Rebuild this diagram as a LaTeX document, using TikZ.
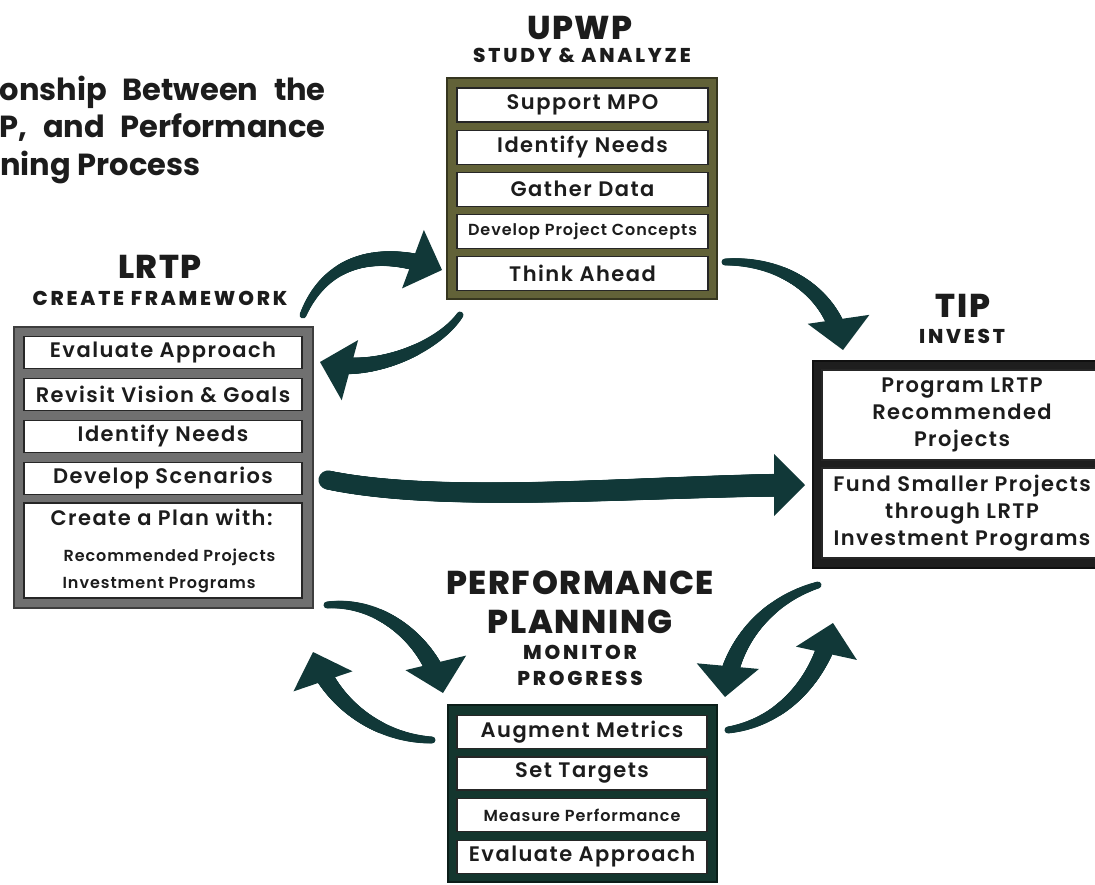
\documentclass[tikz,border=0pt]{standalone}
\usepackage{fontspec}
\setmainfont{Poppins}[UprightFont=* SemiBold, BoldFont=* Bold]
\newfontfamily\blackfont{Poppins}[UprightFont=* ExtraBold]
\usepackage{tikz}
\usetikzlibrary{arrows.meta,decorations.markings}

\definecolor{arrowteal}{RGB}{17,56,56}
\definecolor{olivebox}{RGB}{98,98,56}
\definecolor{graybox}{RGB}{112,112,112}
\definecolor{tipbox}{RGB}{30,30,30}
\definecolor{perfbox}{RGB}{20,54,46}
\definecolor{ink}{RGB}{28,28,28}

\newcommand{\titlefont}{\bfseries\fontsize{30.5}{37}\selectfont}
\newcommand{\headfont}{\blackfont\fontsize{33}{39}\selectfont\addfontfeatures{LetterSpace=5}}
\newcommand{\subfont}{\blackfont\fontsize{20}{26}\selectfont\addfontfeatures{LetterSpace=14}}
\newcommand{\rowfont}{\fontsize{21}{27}\selectfont\addfontfeatures{LetterSpace=7}}
\newcommand{\smallrow}{\fontsize{16}{21}\selectfont\addfontfeatures{LetterSpace=6}}

\tikzset{
  boxframe/.style={draw=#1!55!black, fill=#1, line width=1.5pt, inner sep=0pt},
  rowbox/.style={draw=black!85, fill=white, line width=1.2pt, inner sep=0pt,
    text=ink, font=\rowfont, align=center},
  headtxt/.style={text=ink, font=\headfont, inner sep=0pt, align=center},
  subtxt/.style={text=ink, font=\subfont, inner sep=0pt, align=center},
  titletxt/.style={text=ink, font=\titlefont, inner sep=0pt},
  % thin at the tail, thick at the head
  bigarrow/.style 2 args={arrowteal, line width=2pt, -{Triangle[length=31pt,width=62pt]},
    postaction={decorate, decoration={markings,
      mark=between positions 0 and -29pt step 1pt with {
        \pgfmathsetmacro\rr{#1+(#2-#1)*\pgfkeysvalueof{/pgf/decoration/mark info/distance from start}/\pgfdecoratedpathlength}
        \fill[arrowteal] (0,0) circle[radius=\rr pt];}}}},
}

\begin{document}
\begin{tikzpicture}[x=1pt,y=-1pt]
	\useasboundingbox (0,0) rectangle (1095,884);
	\clip (0,0) rectangle (1095,884);

	%----------------------------------------------------
	% Heading, cut off at the left edge
	%----------------------------------------------------
	\node[titletxt, anchor=base east] (ttl1) at (326,100) {\makebox[326pt][s]{onship Between the}};
	\node[titletxt, anchor=base east] (ttl2) at (326,137) {\makebox[326pt][s]{P, and Performance}};
	\node[titletxt, anchor=base west] (ttl3) at (0,175) {ning Process};

	%----------------------------------------------------
	% Arrows between the four boxes
	%----------------------------------------------------
	\coordinate (a1s) at (303,315); \coordinate (a1e) at (442,270);
	\coordinate (a2s) at (460,315); \coordinate (a2e) at (320,362);
	\coordinate (a3s) at (725,262); \coordinate (a3e) at (843,350);
	\coordinate (a4s) at (328,480); \coordinate (a4e) at (805,485);
	\coordinate (a5s) at (327,605); \coordinate (a5e) at (443,693);
	\coordinate (a6s) at (432,740); \coordinate (a6e) at (313,652);
	\coordinate (a7s) at (818,585); \coordinate (a7e) at (725,697);
	\coordinate (a8s) at (728,730); \coordinate (a8e) at (833,623);
	\draw[bigarrow={3.5}{9.5}] (a1s) .. controls +(22,-53) and +(-67,-25) .. (a1e);
	\draw[bigarrow={3.5}{9.5}] (a2s) .. controls +(-20,30) and +(55,15) .. (a2e);
	\draw[bigarrow={3.5}{9.5}] (a3s) .. controls +(60,-2) and +(-8,-55) .. (a3e);
	\draw[bigarrow={9.5}{11.5}] (a4s) .. controls +(120,25) and +(-150,0) .. (a4e);
	\draw[bigarrow={3.5}{10}] (a5s) .. controls +(55,-5) and +(-12,-50) .. (a5e);
	\draw[bigarrow={3.5}{10}] (a6s) .. controls +(-55,-2) and +(17,50) .. (a6e);
	\draw[bigarrow={3.5}{10}] (a7s) .. controls +(-50,15) and +(5,-55) .. (a7e);
	\draw[bigarrow={3.5}{10}] (a8s) .. controls +(55,-8) and +(-12,55) .. (a8e);

	%----------------------------------------------------
	% UPWP
	%----------------------------------------------------
	\node[headtxt] (upwpT) at (580,28) {UPWP};
	\node[subtxt] (upwpS) at (582,55) {STUDY \& ANALYZE};
	\node[boxframe=olivebox, minimum width=270pt, minimum height=221pt] (upwp) at (582,188.5) {};
	\foreach \t [count=\i] in {Support MPO, Identify Needs, Gather Data, \smallrow Develop Project Concepts, Think Ahead}
		\node[rowbox, minimum width=251pt, minimum height=34pt] (upwp\i) at (582.5,62.9+42.1*\i) {\t};

	%----------------------------------------------------
	% LRTP
	%----------------------------------------------------
	\node[headtxt] (lrtpT) at (160,267) {LRTP};
	\node[subtxt] (lrtpS) at (160,298) {CREATE FRAMEWORK};
	\node[boxframe=graybox, minimum width=299pt, minimum height=281pt] (lrtp) at (163.5,467.5) {};
	\foreach \t [count=\i] in {Evaluate Approach, Revisit Vision \& Goals, Identify Needs, Develop Scenarios}
		\node[rowbox, minimum width=278pt, minimum height=32pt] (lrtp\i) at (163,310.5+42*\i) {\t};
	\node[rowbox, minimum width=278pt, minimum height=95pt, align=left] (lrtp5) at (163,550.5)
		{Create a Plan with:\\[9pt] \smallrow\hspace*{13pt}Recommended Projects\\ \smallrow\hspace*{12pt}Investment Programs};

	%----------------------------------------------------
	% TIP
	%----------------------------------------------------
	\node[headtxt] (tipT) at (963,306) {TIP};
	\node[subtxt] (tipS) at (962,336) {INVEST};
	\node[boxframe=tipbox, minimum width=298pt, minimum height=207pt] (tip) at (962,464.5) {};
	\node[rowbox, minimum width=280pt, minimum height=90pt] (tip1) at (962,415) {Program LRTP\\Recommended\\Projects};
	\node[rowbox, minimum width=280pt, minimum height=90pt] (tip2) at (962,513) {Fund Smaller Projects\\through LRTP\\Investment Programs};

	%----------------------------------------------------
	% Performance planning
	%----------------------------------------------------
	\node[headtxt] (perfT) at (580,602) {PERFORMANCE\\PLANNING};
	\node[subtxt] (perfS) at (580,665) {MONITOR\\PROGRESS};
	\node[boxframe=perfbox, minimum width=269pt, minimum height=177pt] (perf) at (582.5,793.5) {};
	\foreach \t [count=\i] in {Augment Metrics, Set Targets, \smallrow Measure Performance, Evaluate Approach}
		\node[rowbox, minimum width=250pt, minimum height=33pt] (perf\i) at (582,690+41.7*\i) {\t};

\end{tikzpicture}
\end{document}
